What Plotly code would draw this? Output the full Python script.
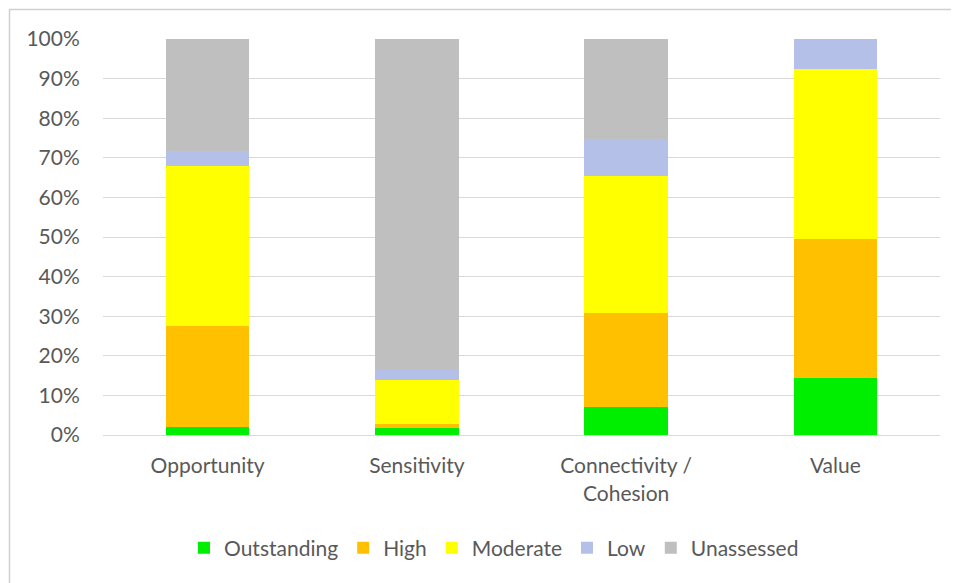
import plotly.graph_objects as go

categories = ["Opportunity", "Sensitivity", "Connectivity /<br>Cohesion", "Value"]
outstanding = [2.1, 1.7, 7.1, 14.4]
high = [25.4, 1.1, 23.6, 35.1]
moderate = [40.5, 11.2, 34.6, 43.0]
low = [3.6, 2.4, 9.4, 7.5]
unassessed = [28.4, 83.6, 25.3, 0.0]

series_names = ["Outstanding", "High", "Moderate", "Low", "Unassessed"]
series_values = [outstanding, high, moderate, low, unassessed]
colors = ["#00EE00", "#FFC000", "#FFFF00", "#B4C0E8", "#BFBFBF"]

fig = go.Figure()
for name, vals, col in zip(series_names, series_values, colors):
    fig.add_trace(go.Bar(
        x=categories, y=vals, name=name,
        marker=dict(color=col, line=dict(width=0)),
        width=0.4, hoverinfo="skip",
    ))

# page body has an 8px margin, so work in screenshot coords minus 8
OFF = 8
W, H = 959 - OFF, 583 - OFF
L = 103 - OFF
T = 39 - OFF
R = W - (940 - OFF)
B = H - (435 - OFF)
pw, ph = W - L - R, H - T - B


def px(x):
    return (x - OFF - L) / pw


def py(y):
    return (H - B - (y - OFF)) / ph


FONT = "Lato, 'Open Sans', sans-serif"
TXT = "#595959"

fig.update_layout(
    barmode="stack",
    width=W, height=H,
    margin=dict(l=L, r=R, t=T, b=B, autoexpand=False),
    paper_bgcolor="white", plot_bgcolor="white",
    font=dict(family=FONT, size=21, color=TXT),
    showlegend=True,
    legend=dict(orientation="h", x=px(494), xanchor="center", y=py(548), yanchor="middle",
                font=dict(size=21, color=TXT), traceorder="normal"),
    xaxis=dict(showgrid=False, showline=True, linecolor="#D9D9D9", linewidth=1,
               ticks="outside", ticklen=12, tickcolor="rgba(0,0,0,0)",
               tickfont=dict(size=21, color=TXT), fixedrange=True),
    yaxis=dict(range=[0, 100], dtick=10, ticksuffix="%", showgrid=True,
               gridcolor="#D9D9D9", gridwidth=1, zeroline=False, showline=False,
               ticks="outside", ticklen=18, tickcolor="rgba(0,0,0,0)",
               tickfont=dict(size=21, color=TXT), fixedrange=True),
    shapes=[dict(type="rect", xref="paper", yref="paper",
                 x0=px(9.5), x1=px(990), y0=py(620), y1=py(9.5),
                 line=dict(color="#D0D0D0", width=1.5), fillcolor="rgba(0,0,0,0)", layer="below")],
)

fig.write_html("out.html")
